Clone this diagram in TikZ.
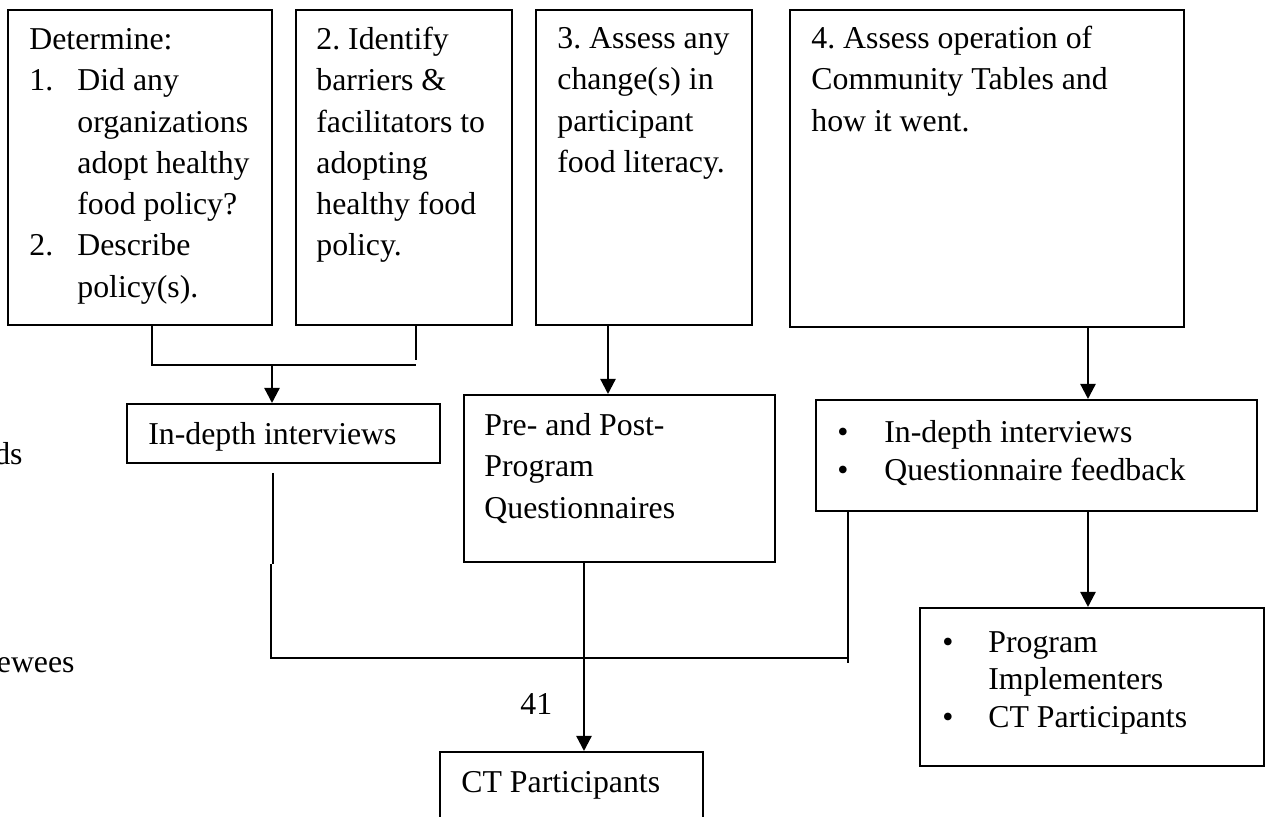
\documentclass[tikz,border=0pt]{standalone}
\usepackage{fontspec}
\setmainfont{Liberation Serif}
\usetikzlibrary{arrows.meta,fit}
\frenchspacing
\begin{document}
\begin{tikzpicture}[x=0.5pt,y=-0.5pt,
  box/.style={draw,line width=1pt,inner sep=0pt},
  txt/.style={inner sep=0pt,anchor=north west,align=left,font=\fontsize{15.9}{20.65}\selectfont},
  txtb/.style={inner sep=0pt,anchor=north west,align=left,font=\fontsize{15.9}{19}\selectfont},
  txtc/.style={inner sep=0pt,anchor=north west,align=left,font=\fontsize{15.9}{18.75}\selectfont},
  lbl/.style={inner sep=0pt,font=\fontsize{15.9}{20.65}\selectfont},
  conn/.style={line width=1pt},
  arr/.style={line width=1.15pt,-{Triangle[width=7.5pt,length=7.5pt]}}]
\useasboundingbox (0,0) rectangle (1270,817);
\clip (0,0) rectangle (1270,817);

% boxes
\node[box,fit={(8,10)(272,325)}] (A) {};
\node[box,fit={(296,10)(512,325)}] (B) {};
\node[box,fit={(536,10)(752,325)}] (C) {};
\node[box,fit={(790,10)(1184,327)}] (D) {};
\node[box,fit={(127,404)(440,463)}] (E) {};
\node[box,fit={(464,395)(775,562)}] (F) {};
\node[box,fit={(816,400)(1257,511)}] (G) {};
\node[box,fit={(920,608)(1264,766)}] (H) {};
\node[box,fit={(440,752)(703,840)}] (I) {};

% texts
\node[txt] (tA) at (29,20.1) {\strut Determine:\\
\makebox[24pt][l]{1.}Did any\\
\hspace*{24pt}organizations\\
\hspace*{24pt}adopt healthy\\
\hspace*{24pt}food policy?\\
\makebox[24pt][l]{2.}Describe\\
\hspace*{24pt}policy(s).};
\node[txt] (tB) at (316,20.1) {\strut 2. Identify\\barriers \&\\facilitators to\\adopting\\healthy food\\policy.};
\node[txt] (tC) at (557,19.1) {\strut 3. Assess any\\change(s) in\\participant\\food literacy.};
\node[txt] (tD) at (811,19.1) {\strut 4. Assess operation of\\Community Tables and\\how it went.};
\node[txt] (tE) at (148,415.1) {\strut In-depth interviews};
\node[txt] (tF) at (484,406.1) {\strut Pre- and Post-\\Program\\Questionnaires};
\node[txtb] (tG) at (837,415.4) {\strut\makebox[23.5pt][l]{\textbullet}In-depth interviews\\
\makebox[23.5pt][l]{\textbullet}Questionnaire feedback};
\node[txtc] (tH) at (942,625.75) {\strut\makebox[23pt][l]{\textbullet}Program\\
\hspace*{23pt}Implementers\\
\makebox[23pt][l]{\textbullet}CT Participants};
\node[txt] (tI) at (461,763.1) {\strut CT Participants};
\node[lbl,anchor=base west] (n41) at (520,715) {41};
\node[lbl,anchor=base east] (ds) at (23,465) {ds};
\node[lbl,anchor=base east] (ew) at (75,673) {ewees};

% connector coordinates
\coordinate (jA) at (152,365);
\coordinate (jB) at (416,365);
\coordinate (jB2) at (416,360);
\coordinate (jE) at (272,365);
\coordinate (cx) at (608,0);
\coordinate (dx) at (1088,0);
\coordinate (fx) at (584,0);
\coordinate (e1) at (273,473);
\coordinate (e2) at (273,564);
\coordinate (e3) at (271,564);
\coordinate (e4) at (271,658);
\coordinate (g1) at (848,658);
\coordinate (gx) at (848,663);

% connectors
\draw[conn] (A.south -| jA) -- (jA) -- (jB);
\draw[conn] (B.south -| jB) -- (jB2);
\draw[arr] (jE) -- (jE |- E.north);
\draw[arr] (C.south -| cx) -- (F.north -| cx);
\draw[arr] (D.south -| dx) -- (G.north -| dx);
\draw[arr] (G.south -| dx) -- (H.north -| dx);
\draw[arr] (F.south -| fx) -- (I.north -| fx);
\draw[conn] (e1) -- (e2);
\draw[conn] (e3) -- (e4) -- (g1);
\draw[conn] (G.south -| gx) -- (gx);
\end{tikzpicture}
\end{document}
